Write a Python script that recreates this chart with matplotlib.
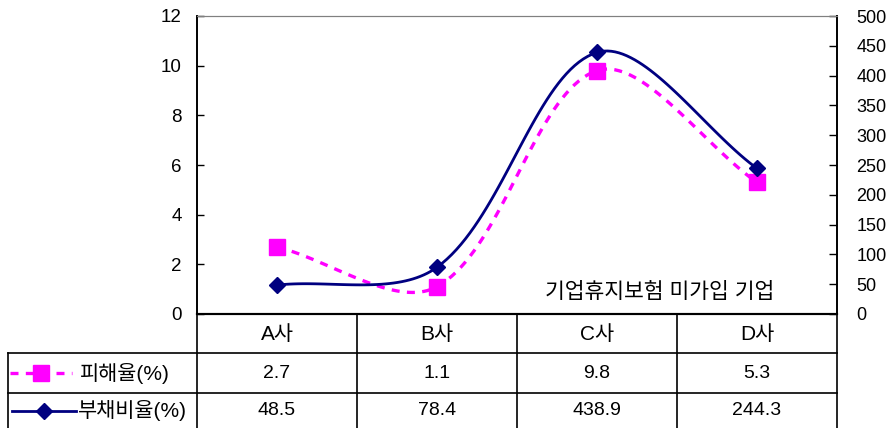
import numpy as np
import matplotlib.pyplot as plt
from matplotlib import font_manager

plt.rcParams['font.family'] = ['Liberation Sans', 'Noto Sans CJK KR']

# data
categories = ['A사', 'B사', 'C사', 'D사']
damage = [2.7, 1.1, 9.8, 5.3]          # 피해율(%) - left axis
debt = [48.5, 78.4, 438.9, 244.3]      # 부채비율(%) - right axis
series_names = ['피해율(%)', '부채비율(%)']
note = '기업휴지보험 미가입 기업'

W, H = 890, 428
L, R, T, B = 197, 837, 16, 314
fig = plt.figure(figsize=(W / 100, H / 100), dpi=100)
ax = fig.add_axes([L / W, 1 - B / H, (R - L) / W, (B - T) / H])
ax2 = ax.twinx()

ax.set_xlim(-0.5, len(categories) - 0.5)
ax.set_ylim(0, 12)
ax2.set_ylim(0, 500)


# Excel-like smoothing: bezier with tangents weighted by segment length (pixel space)
def smooth(ys, ymax, n=40):
    sx = (R - L) / len(categories)
    sy = (B - T) / ymax
    P = np.column_stack([np.arange(len(ys)) * sx, np.asarray(ys, float) * sy])
    P = np.vstack([P[0], P, P[-1]])
    out = []
    t = np.linspace(0, 1, n)[:, None]
    for i in range(1, len(P) - 2):
        p0, p1, p2, p3 = P[i - 1], P[i], P[i + 1], P[i + 2]
        d01 = np.hypot(*(p1 - p0))
        d12 = np.hypot(*(p2 - p1))
        d23 = np.hypot(*(p3 - p2))
        c1 = p1 + (p2 - p0) * d12 / (d01 + d12) / 3
        c2 = p2 - (p3 - p1) * d12 / (d12 + d23) / 3
        seg = (1 - t) ** 3 * p1 + 3 * (1 - t) ** 2 * t * c1 + 3 * (1 - t) * t ** 2 * c2 + t ** 3 * p2
        out.append(seg if i == 1 else seg[1:])
    out = np.vstack(out)
    return out[:, 0] / sx, out[:, 1] / sy


x = np.arange(len(categories))
mag = '#FF00FF'
navy = '#000080'

sx1, sy1 = smooth(damage, 12)
ax.plot(sx1, sy1, color=mag, lw=2.4, dashes=(2.4, 2.2), zorder=3)
ax.plot(x, damage, ls='none', marker='s', ms=11, color=mag, zorder=4)

sx2, sy2 = smooth(debt, 500)
ax2.plot(sx2, sy2, color=navy, lw=2.0, zorder=3)
ax2.plot(x, debt, ls='none', marker='D', ms=8, color=navy, zorder=4)

ax.set_yticks(np.arange(0, 13, 2))
ax2.set_yticks(np.arange(0, 501, 50))
ax.set_xticks([])
ax.tick_params(axis='y', direction='in', length=5, width=1, pad=11, labelsize=13.5)
ax2.tick_params(axis='y', direction='in', length=6, width=1, pad=14, labelsize=13)

names = {f.name for f in font_manager.fontManager.ttflist}
if 'Liberation Sans Narrow' in names:
    for lab in ax2.get_yticklabels():
        lab.set_family('Liberation Sans Narrow')

for a in (ax, ax2):
    a.spines['top'].set_color('#808080')
    a.spines['bottom'].set_linewidth(1.5)
    a.spines['left'].set_linewidth(1.2)
    a.spines['right'].set_linewidth(1.2)
    a.patch.set_visible(False)

# overlay in pixel coordinates for the data table
ov = fig.add_axes([0, 0, 1, 1])
ov.set_xlim(0, W)
ov.set_ylim(H, 0)
ov.axis('off')
ov.patch.set_visible(False)

ov.text(660, 293, note, fontsize=15.5, ha='center', va='center')

r1, r2, r3 = 353, 393, 428
colw = (R - L) / len(categories)
lc = 'black'
for i in range(len(categories) + 1):
    ov.plot([L + i * colw] * 2, [B, r3], color=lc, lw=1.2)
ov.plot([8, 8], [r1, r3], color=lc, lw=1.2)
ov.plot([8, R], [r1, r1], color=lc, lw=1.2)
ov.plot([8, R], [r2, r2], color=lc, lw=1.2)

for i, c in enumerate(categories):
    cx = L + (i + 0.5) * colw
    ov.text(cx, (B + r1) / 2 + 1, c, fontsize=15, ha='center', va='center')
    ov.text(cx, (r1 + r2) / 2, f'{damage[i]:g}', fontsize=14, ha='center', va='center')
    ov.text(cx, (r2 + r3) / 2, f'{debt[i]:g}', fontsize=14, ha='center', va='center')

# legend keys inside the table
y1 = (r1 + r2) / 2
ov.plot([10, 72], [y1, y1], color=mag, lw=2.4, dashes=(2.4, 2.2))
ov.plot([41], [y1], marker='s', ms=11, color=mag)
ov.text(80, y1, series_names[0], fontsize=15, ha='left', va='center')
y2 = (r2 + r3) / 2
ov.plot([12, 76], [y2, y2], color=navy, lw=2.0)
ov.plot([44], [y2], marker='D', ms=8, color=navy)
ov.text(78, y2, series_names[1], fontsize=15, ha='left', va='center')

fig.savefig('out.png', dpi=100)
